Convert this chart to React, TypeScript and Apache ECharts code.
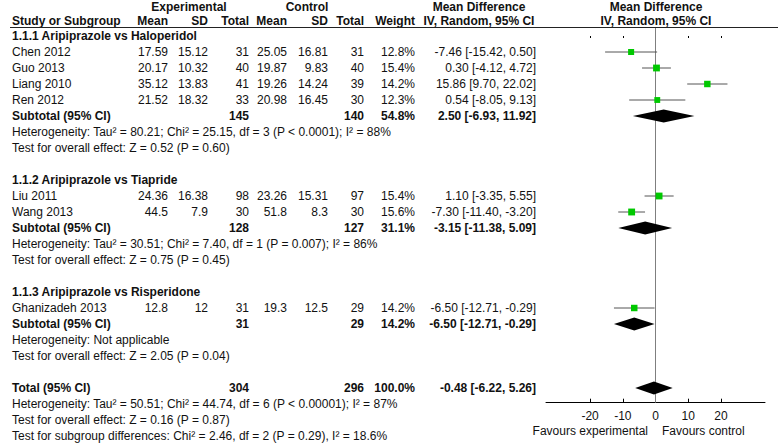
import React, { useEffect, useRef } from "react";
import * as echarts from "echarts";

// ---------- data ----------
const groupTitles = [
  "1.1.1 Aripiprazole vs Haloperidol",
  "1.1.2 Aripiprazole vs Tiapride",
  "1.1.3 Aripiprazole vs Risperidone",
];
const groupRows = [0, 9, 16];

const studyNames = ["Chen 2012", "Guo 2013", "Liang 2010", "Ren 2012", "Liu 2011", "Wang 2013", "Ghanizadeh 2013"];
const studyRows = [1, 2, 3, 4, 10, 11, 17];
const expMean = [17.59, 20.17, 35.12, 21.52, 24.36, 44.5, 12.8];
const expSD = [15.12, 10.32, 13.83, 18.32, 16.38, 7.9, 12];
const expTotal = [31, 40, 41, 33, 98, 30, 31];
const ctlMean = [25.05, 19.87, 19.26, 20.98, 23.26, 51.8, 19.3];
const ctlSD = [16.81, 9.83, 14.24, 16.45, 15.31, 8.3, 12.5];
const ctlTotal = [31, 40, 39, 30, 97, 30, 29];
const studyWeight = [12.8, 15.4, 14.2, 12.3, 15.4, 15.6, 14.2];
const studyMD = [-7.46, 0.3, 15.86, 0.54, 1.1, -7.3, -6.5];
const studyLow = [-15.42, -4.12, 9.7, -8.05, -3.35, -11.4, -12.71];
const studyHigh = [0.5, 4.72, 22.02, 9.13, 5.55, -3.2, -0.29];

const poolNames = ["Subtotal (95% CI)", "Subtotal (95% CI)", "Subtotal (95% CI)", "Total (95% CI)"];
const poolRows = [5, 12, 18, 22];
const poolExpTotal = [145, 128, 31, 304];
const poolCtlTotal = [140, 127, 29, 296];
const poolWeight = [54.8, 31.1, 14.2, 100.0];
const poolMD = [2.5, -3.15, -6.5, -0.48];
const poolLow = [-6.93, -11.38, -12.71, -6.22];
const poolHigh = [11.92, 5.09, -0.29, 5.26];

const noteTexts = [
  "Heterogeneity: Tau² = 80.21; Chi² = 25.15, df = 3 (P < 0.0001); I² = 88%",
  "Test for overall effect: Z = 0.52 (P = 0.60)",
  "Heterogeneity: Tau² = 30.51; Chi² = 7.40, df = 1 (P = 0.007); I² = 86%",
  "Test for overall effect: Z = 0.75 (P = 0.45)",
  "Heterogeneity: Not applicable",
  "Test for overall effect: Z = 2.05 (P = 0.04)",
  "Heterogeneity: Tau² = 50.51; Chi² = 44.74, df = 6 (P < 0.00001); I² = 87%",
  "Test for overall effect: Z = 0.16 (P = 0.87)",
  "Test for subgroup differences: Chi² = 2.46, df = 2 (P = 0.29), I² = 18.6%",
];
const noteRows = [6, 7, 13, 14, 19, 20, 23, 24, 25];

const tickValues = [-20, -10, 0, 10, 20];
const axisMin = -33.5;
const axisMax = 33.5;

// ---------- layout ----------
const FONT = "'Liberation Sans', Arial, sans-serif";
const ROW0 = 36;
const ROWH = 16;
const rowY = (r: number) => ROW0 + ROWH * r;
const COL = {
  name: 12,
  expMean: 168,
  expSD: 208,
  expTotal: 249,
  ctlMean: 287,
  ctlSD: 328,
  ctlTotal: 364,
  weight: 415,
  md: 536,
  mdHead: 479,
  plot: 656,
};
const GRID_LEFT = 546;
const GRID_RIGHT_X = 765;
const GRID_TOP = 28;
const AXIS_Y = 402.7;
const yMin = (GRID_TOP - ROW0) / ROWH;
const yMax = (AXIS_Y - ROW0) / ROWH;

function txt(text: string, x: number, y: number, align: string, bold = false): any {
  return {
    type: "text",
    silent: true,
    style: {
      text,
      x,
      y,
      fill: "#111",
      fontSize: 12,
      fontFamily: FONT,
      fontWeight: bold ? "bold" : "normal",
      textAlign: align,
      textVerticalAlign: "middle",
    },
  };
}

const fmtCI = (m: number, l: number, h: number) => `${m.toFixed(2)} [${l.toFixed(2)}, ${h.toFixed(2)}]`;

function buildGraphics(): any[] {
  const g: any[] = [];
  // header
  g.push(txt("Experimental", 189, 7, "center", true));
  g.push(txt("Control", 307, 7, "center", true));
  g.push(txt("Mean Difference", COL.mdHead, 7, "center", true));
  g.push(txt("Mean Difference", COL.plot, 7, "center", true));
  const hy = 21;
  g.push(txt("Study or Subgroup", COL.name, hy, "left", true));
  g.push(txt("Mean", COL.expMean, hy, "right", true));
  g.push(txt("SD", COL.expSD, hy, "right", true));
  g.push(txt("Total", COL.expTotal, hy, "right", true));
  g.push(txt("Mean", COL.ctlMean, hy, "right", true));
  g.push(txt("SD", COL.ctlSD, hy, "right", true));
  g.push(txt("Total", COL.ctlTotal, hy, "right", true));
  g.push(txt("Weight", COL.weight, hy, "right", true));
  g.push(txt("IV, Random, 95% CI", COL.mdHead, hy, "center", true));
  g.push(txt("IV, Random, 95% CI", COL.plot, hy, "center", true));
  g.push({
    type: "line",
    silent: true,
    shape: { x1: 10, y1: 27.5, x2: 778, y2: 27.5 },
    style: { stroke: "#222", lineWidth: 1 },
  });

  groupTitles.forEach((t, i) => g.push(txt(t, COL.name, rowY(groupRows[i]), "left", true)));

  studyNames.forEach((n, i) => {
    const y = rowY(studyRows[i]);
    g.push(txt(n, COL.name, y, "left"));
    g.push(txt(String(expMean[i]), COL.expMean, y, "right"));
    g.push(txt(String(expSD[i]), COL.expSD, y, "right"));
    g.push(txt(String(expTotal[i]), COL.expTotal, y, "right"));
    g.push(txt(String(ctlMean[i]), COL.ctlMean, y, "right"));
    g.push(txt(String(ctlSD[i]), COL.ctlSD, y, "right"));
    g.push(txt(String(ctlTotal[i]), COL.ctlTotal, y, "right"));
    g.push(txt(studyWeight[i].toFixed(1) + "%", COL.weight, y, "right"));
    g.push(txt(fmtCI(studyMD[i], studyLow[i], studyHigh[i]), COL.md, y, "right"));
  });

  poolNames.forEach((n, i) => {
    const y = rowY(poolRows[i]);
    g.push(txt(n, COL.name, y, "left", true));
    g.push(txt(String(poolExpTotal[i]), COL.expTotal, y, "right", true));
    g.push(txt(String(poolCtlTotal[i]), COL.ctlTotal, y, "right", true));
    g.push(txt(poolWeight[i].toFixed(1) + "%", COL.weight, y, "right", true));
    g.push(txt(fmtCI(poolMD[i], poolLow[i], poolHigh[i]), COL.md, y, "right", true));
  });

  noteTexts.forEach((t, i) => g.push(txt(t, COL.name, rowY(noteRows[i]), "left")));

  g.push(txt("Favours experimental", 648, 431, "right"));
  g.push(txt("Favours control", 662, 431, "left"));
  return g;
}

export default function App() {
  const ref = useRef<HTMLDivElement>(null);
  useEffect(() => {
    document.body.style.margin = "0";
    if (!ref.current) return;
    const chart = echarts.init(ref.current, null, { renderer: "svg" });

    const studyData = studyNames.map((_, i) => [studyMD[i], studyLow[i], studyHigh[i], studyRows[i], studyWeight[i]]);
    const poolData = poolNames.map((_, i) => [poolMD[i], poolLow[i], poolHigh[i], poolRows[i]]);

    const option: any = {
      animation: false,
      backgroundColor: "#fff",
      grid: {
        left: GRID_LEFT,
        top: GRID_TOP,
        width: GRID_RIGHT_X - GRID_LEFT,
        height: AXIS_Y - GRID_TOP,
        containLabel: false,
      },
      xAxis: [
        {
          type: "value",
          min: axisMin,
          max: axisMax,
          position: "bottom",
          axisLine: { show: true, onZero: false, lineStyle: { color: "#000", width: 1 } },
          axisTick: { show: true, inside: true, length: 4, customValues: tickValues, lineStyle: { color: "#000" } },
          axisLabel: {
            show: true,
            customValues: tickValues,
            margin: 7,
            color: "#111",
            fontSize: 12,
            fontFamily: FONT,
          },
          splitLine: { show: false },
        },
        {
          type: "value",
          min: axisMin,
          max: axisMax,
          position: "bottom",
          offset: 0,
          axisLine: { show: false },
          axisTick: { show: true, inside: false, length: 2, customValues: tickValues, lineStyle: { color: "#000" } },
          axisLabel: { show: false },
          splitLine: { show: false },
        },
      ],
      yAxis: {
        type: "value",
        inverse: true,
        min: yMin,
        max: yMax,
        show: false,
      },
      series: [
        {
          type: "line",
          data: [
            [0, yMin],
            [0, yMax],
          ],
          symbol: "none",
          silent: true,
          lineStyle: { color: "#7f7f7f", width: 1 },
          z: 1,
        },
        {
          type: "custom",
          data: studyData,
          silent: true,
          z: 3,
          renderItem: (params: any, api: any) => {
            const m = api.value(0);
            const lo = api.value(1);
            const hi = api.value(2);
            const r = api.value(3);
            const w = api.value(4);
            const pm = api.coord([m, r]);
            const pl = api.coord([lo, r]);
            const ph = api.coord([hi, r]);
            const s = 2.2 + w * 0.3;
            return {
              type: "group",
              children: [
                {
                  type: "line",
                  shape: { x1: pl[0], y1: pl[1], x2: ph[0], y2: ph[1] },
                  style: { stroke: "#555", lineWidth: 1 },
                },
                {
                  type: "rect",
                  shape: { x: pm[0] - s / 2, y: pm[1] - s / 2, width: s, height: s },
                  style: { fill: "#00c800" },
                },
              ],
            };
          },
        },
        {
          type: "custom",
          data: poolData,
          silent: true,
          z: 3,
          renderItem: (params: any, api: any) => {
            const m = api.value(0);
            const lo = api.value(1);
            const hi = api.value(2);
            const r = api.value(3);
            const pm = api.coord([m, r]);
            const pl = api.coord([lo, r]);
            const ph = api.coord([hi, r]);
            const h = 6.5;
            return {
              type: "polygon",
              shape: {
                points: [
                  [pl[0], pl[1]],
                  [pm[0], pm[1] - h],
                  [ph[0], ph[1]],
                  [pm[0], pm[1] + h],
                ],
              },
              style: { fill: "#000" },
            };
          },
        },
      ],
      graphic: { elements: buildGraphics() },
    };
    chart.setOption(option);
    return () => chart.dispose();
  }, []);
  return <div ref={ref} style={{ width: 778, height: 445 }} />;
}
